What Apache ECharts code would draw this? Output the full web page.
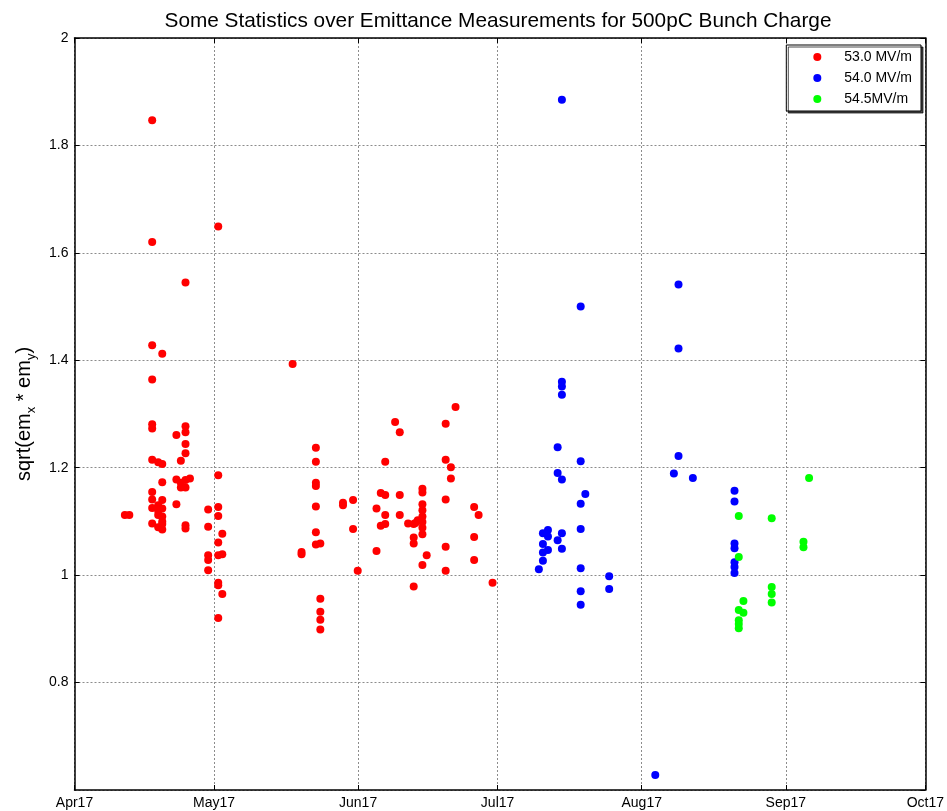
<!DOCTYPE html>
<html>
<head>
<meta charset="utf-8">
<script src="https://cdn.jsdelivr.net/npm/echarts@6/dist/echarts.min.js"></script>
<style>
html,body{margin:0;padding:0;background:#fff;}
#chart{width:947px;height:811px;}
</style>
</head>
<body>
<div id="chart"></div>
<script>
// ---- data ----
const monthNames = ['Jan','Feb','Mar','Apr','May','Jun','Jul','Aug','Sep','Oct','Nov','Dec'];
const seriesNames = ['53.0 MV/m', '54.0 MV/m', '54.5MV/m'];
const yTicks = [0.6, 0.8, 1, 1.2, 1.4, 1.6, 1.8, 2];

// 53.0 MV/m : measurement dates and the values measured on each
const dates53 = [
  '2017-04-11 20:00', '2017-04-12 19:00', '2017-04-17 17:00', '2017-04-19 00:00',
  '2017-04-19 21:00', '2017-04-22 22:00', '2017-04-23 21:00', '2017-04-24 21:00',
  '2017-04-25 20:00', '2017-04-29 18:00', '2017-05-01 22:00', '2017-05-02 19:00',
  '2017-05-17 22:00', '2017-05-19 20:00', '2017-05-22 22:00', '2017-05-23 21:00',
  '2017-05-28 18:00', '2017-05-30 22:00', '2017-05-31 22:00', '2017-06-04 23:00',
  '2017-06-05 21:00', '2017-06-06 20:00', '2017-06-08 23:00', '2017-06-09 23:00',
  '2017-06-11 18:00', '2017-06-12 23:00', '2017-06-13 08:00', '2017-06-13 20:00',
  '2017-06-14 20:00', '2017-06-15 18:00', '2017-06-19 20:00', '2017-06-20 23:00',
  '2017-06-21 23:00', '2017-06-25 23:00', '2017-06-26 22:00', '2017-06-29 22:00'
];
const values53 = [
  [1.112], [1.112],
  [1.847, 1.620, 1.428, 1.364, 1.281, 1.273, 1.215, 1.155, 1.141, 1.125, 1.096],
  [1.210, 1.130, 1.120, 1.112, 1.089],
  [1.412, 1.207, 1.173, 1.140, 1.124, 1.109, 1.100, 1.095, 1.085],
  [1.261, 1.178, 1.132],
  [1.213, 1.172, 1.163],
  [1.545, 1.277, 1.266, 1.244, 1.227, 1.177, 1.163, 1.093, 1.087],
  [1.180],
  [1.122, 1.090, 1.037, 1.028, 1.009],
  [1.649, 1.186, 1.127, 1.110, 1.061, 1.037, 0.986, 0.981, 0.920],
  [1.077, 1.039, 0.965],
  [1.393],
  [1.043, 1.039],
  [1.237, 1.211, 1.172, 1.166, 1.128, 1.080, 1.057],
  [1.059, 0.956, 0.932, 0.917, 0.899],
  [1.135, 1.130],
  [1.140, 1.086],
  [1.008],
  [1.124, 1.045],
  [1.153, 1.092],
  [1.211, 1.149, 1.112, 1.095],
  [1.285],
  [1.266, 1.149, 1.112],
  [1.096],
  [1.095, 1.070, 1.059, 0.979],
  [1.097],
  [1.102],
  [1.161, 1.154, 1.132, 1.121, 1.109, 1.099, 1.088, 1.076, 1.019],
  [1.037],
  [1.282, 1.215, 1.141, 1.053, 1.008],
  [1.201, 1.180],
  [1.313],
  [1.127, 1.071, 1.028],
  [1.112],
  [0.986]
];

// 54.0 MV/m
const dates54 = [
  '2017-07-09 21:00', '2017-07-10 18:00', '2017-07-11 20:00', '2017-07-13 22:00',
  '2017-07-14 20:00', '2017-07-18 21:00', '2017-07-19 21:00', '2017-07-25 00:00',
  '2017-08-03 22:00', '2017-08-07 22:00', '2017-08-08 22:00', '2017-08-12 00:00',
  '2017-08-20 23:00'
];
const values54 = [
  [1.011],
  [1.078, 1.058, 1.042, 1.027],
  [1.084, 1.072, 1.047],
  [1.238, 1.190, 1.065],
  [1.885, 1.360, 1.351, 1.336, 1.178, 1.078, 1.049],
  [1.500, 1.212, 1.133, 1.086, 1.013, 0.970, 0.945],
  [1.151],
  [0.998, 0.974],
  [0.628],
  [1.189],
  [1.541, 1.422, 1.222],
  [1.181],
  [1.157, 1.137, 1.059, 1.050, 1.024, 1.015, 1.004]
];

// 54.5 MV/m
const dates545 = [
  '2017-08-21 21:00', '2017-08-22 21:00', '2017-08-28 23:00', '2017-09-04 19:00',
  '2017-09-06 00:00'
];
const values545 = [
  [1.110, 1.034, 0.935, 0.916, 0.909, 0.901],
  [0.952, 0.930],
  [1.106, 0.978, 0.965, 0.949],
  [1.062, 1.052],
  [1.181]
];

// ---- build ----
function pairs(dates, vals) {
  const out = [];
  dates.forEach((d, i) => vals[i].forEach(v => out.push([d, v])));
  return out;
}
const FONT = 'Liberation Sans, Arial, Helvetica, sans-serif';
const xMin = new Date(2017, 3, 1).getTime();
const xMax = new Date(2017, 9, 1).getTime();
const DAY = 86400000;

const chart = echarts.init(document.getElementById('chart'), null, {renderer: 'canvas'});

const gridLine = {show: true, lineStyle: {color: '#8c8c8c', width: 1, type: [2, 2]}};
const axisLineStyle = {show: true, onZero: false, lineStyle: {color: '#000', width: 1.5}};
const tickStyle = {show: true, inside: true, length: 5, lineStyle: {color: '#000', width: 1}};

function monthLabel(v) {
  const d = new Date(v);
  return monthNames[d.getMonth()] + String(d.getFullYear() % 100).padStart(2, '0');
}

const xCommon = {
  type: 'time', min: xMin, max: xMax,
  splitNumber: 6, minInterval: 28 * DAY, maxInterval: 31 * DAY,
  axisLine: axisLineStyle, axisTick: tickStyle
};
const yCommon = {
  type: 'value', min: yTicks[0], max: yTicks[yTicks.length - 1], interval: 0.2,
  axisLine: axisLineStyle, axisTick: tickStyle
};

chart.setOption({
  backgroundColor: '#fff',
  animation: false,
  textStyle: {fontFamily: FONT},
  title: {
    text: 'Some Statistics over Emittance Measurements for 500pC Bunch Charge',
    left: 493, top: 6, textAlign: 'center',
    textStyle: {fontFamily: FONT, fontSize: 20.8, fontWeight: 'normal', color: '#000'}
  },
  grid: {left: 74.5, right: 21, top: 38, bottom: 21, containLabel: false},
  legend: {
    data: seriesNames,
    right: 26, top: 45,
    orient: 'vertical',
    icon: 'circle',
    itemWidth: 44, itemHeight: 8, itemGap: 7,
    padding: [5, 9, 5, 27],
    backgroundColor: '#fff',
    borderColor: '#000', borderWidth: 1,
    shadowColor: 'rgba(0,0,0,0.7)', shadowOffsetX: 2, shadowOffsetY: 2, shadowBlur: 0,
    textStyle: {fontFamily: FONT, fontSize: 14, color: '#000', lineHeight: 14},
    selectedMode: false
  },
  xAxis: [
    Object.assign({}, xCommon, {
      position: 'bottom',
      splitLine: gridLine,
      axisLabel: {show: true, formatter: monthLabel, margin: 6, fontFamily: FONT, fontSize: 14, color: '#000', showMinLabel: true, showMaxLabel: true, hideOverlap: false}
    }),
    Object.assign({}, xCommon, {
      position: 'top',
      splitLine: {show: false},
      axisLabel: {show: false}
    })
  ],
  yAxis: [
    Object.assign({}, yCommon, {
      position: 'left',
      splitLine: gridLine,
      axisLabel: {show: true, margin: 6, fontFamily: FONT, fontSize: 14, color: '#000', showMinLabel: false},
      name: '{n|sqrt(em}{s|x}{n| * em}{s|y}{n|)}',
      nameLocation: 'middle', nameRotate: 90, nameGap: 36,
      nameTextStyle: {
        fontFamily: FONT, color: '#000',
        rich: {
          n: {fontFamily: FONT, fontSize: 20, lineHeight: 28, color: '#000'},
          s: {fontFamily: FONT, fontSize: 13, lineHeight: 12, verticalAlign: 'bottom', color: '#000'}
        }
      }
    }),
    Object.assign({}, yCommon, {
      position: 'right',
      splitLine: {show: false},
      axisLabel: {show: false}
    })
  ],
  series: [
    {name: seriesNames[0], type: 'scatter', symbol: 'circle', symbolSize: 8, itemStyle: {color: '#ff0000', opacity: 1}, data: pairs(dates53, values53)},
    {name: seriesNames[1], type: 'scatter', symbol: 'circle', symbolSize: 8, itemStyle: {color: '#0000ff', opacity: 1}, data: pairs(dates54, values54)},
    {name: seriesNames[2], type: 'scatter', symbol: 'circle', symbolSize: 8, itemStyle: {color: '#00ff00', opacity: 1}, data: pairs(dates545, values545)}
  ]
});
</script>
</body>
</html>
